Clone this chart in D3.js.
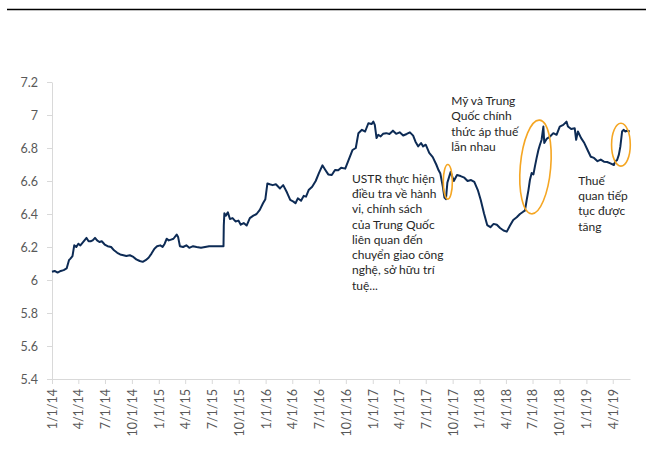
<!DOCTYPE html>
<html>
<head>
<meta charset="utf-8">
<script src="https://cdn.jsdelivr.net/npm/d3@7"></script>
<style>
  html, body { margin: 0; padding: 0; background: #fff; }
  svg text { font-family: Lato, "Noto Sans", sans-serif; }
</style>
</head>
<body>
<div id="chart"></div>
<script>
/* =========================
   Data (USD/CNY)
========================= */
const dates = [
  "2014-01-01","2014-01-10","2014-01-20","2014-01-31","2014-02-10","2014-02-20","2014-02-28","2014-03-05","2014-03-12","2014-03-18",
  "2014-03-25","2014-04-01","2014-04-08","2014-04-15","2014-04-22","2014-04-29","2014-05-06","2014-05-13","2014-05-20","2014-05-28",
  "2014-06-04","2014-06-12","2014-06-20","2014-06-30","2014-07-10","2014-07-22","2014-08-01","2014-08-12","2014-08-22","2014-09-02",
  "2014-09-12","2014-09-24","2014-10-06","2014-10-16","2014-10-28","2014-11-07","2014-11-17","2014-11-27","2014-12-07","2014-12-17",
  "2014-12-26","2015-01-06","2015-01-14","2015-01-21","2015-01-28","2015-02-04","2015-02-12","2015-02-20","2015-03-03","2015-03-08",
  "2015-03-14","2015-03-25","2015-04-05","2015-04-15","2015-04-28","2015-05-10","2015-05-25","2015-06-08","2015-06-22","2015-07-06",
  "2015-07-20","2015-08-03","2015-08-10","2015-08-11","2015-08-13","2015-08-18","2015-08-25","2015-09-01","2015-09-10","2015-09-20",
  "2015-09-30","2015-10-08","2015-10-18","2015-10-28","2015-11-08","2015-11-20","2015-12-01","2015-12-12","2015-12-23","2015-12-31",
  "2016-01-07","2016-01-15","2016-01-25","2016-02-05","2016-02-19","2016-03-01","2016-03-14","2016-03-25","2016-04-05","2016-04-12",
  "2016-04-20","2016-05-01","2016-05-10","2016-05-18","2016-05-27","2016-06-08","2016-06-20","2016-07-01","2016-07-13","2016-07-23",
  "2016-08-02","2016-08-14","2016-08-25","2016-09-05","2016-09-15","2016-09-29","2016-10-10","2016-10-24","2016-11-04","2016-11-13",
  "2016-11-25","2016-12-06","2016-12-17","2016-12-28","2017-01-03","2017-01-08","2017-01-14","2017-01-20","2017-01-28","2017-02-05",
  "2017-02-16","2017-02-27","2017-03-11","2017-03-22","2017-04-03","2017-04-15","2017-04-27","2017-05-08","2017-05-19","2017-05-27",
  "2017-06-05","2017-06-15","2017-06-22","2017-07-01","2017-07-13","2017-07-25","2017-08-06","2017-08-14","2017-08-20","2017-08-28",
  "2017-09-03","2017-09-08","2017-09-13","2017-09-24","2017-10-05","2017-10-16","2017-10-28","2017-11-10","2017-11-21","2017-12-03",
  "2017-12-14","2017-12-26","2018-01-05","2018-01-16","2018-01-27","2018-02-07","2018-02-18","2018-03-01","2018-03-12","2018-03-24",
  "2018-04-04","2018-04-15","2018-04-26","2018-05-08","2018-05-19","2018-05-30","2018-06-05","2018-06-11","2018-06-17","2018-06-22",
  "2018-06-28","2018-07-04","2018-07-09","2018-07-15","2018-07-21","2018-07-26","2018-08-01","2018-08-07","2018-08-10","2018-08-18",
  "2018-08-29","2018-09-10","2018-09-21","2018-10-02","2018-10-14","2018-10-25","2018-10-30","2018-11-10","2018-11-22","2018-11-27",
  "2018-12-03","2018-12-14","2018-12-25","2019-01-05","2019-01-16","2019-01-27","2019-02-08","2019-02-19","2019-03-02","2019-03-13",
  "2019-03-24","2019-04-05","2019-04-10","2019-04-16","2019-04-22","2019-04-27","2019-05-03","2019-05-08","2019-05-14","2019-05-20",
  "2019-05-29"
];

const rates = [
  6.050,6.055,6.045,6.055,6.060,6.070,6.120,6.130,6.145,6.210,
  6.200,6.220,6.210,6.225,6.240,6.255,6.235,6.235,6.240,6.255,
  6.240,6.230,6.235,6.215,6.205,6.200,6.180,6.165,6.155,6.150,
  6.145,6.150,6.140,6.125,6.115,6.110,6.120,6.135,6.160,6.190,
  6.205,6.210,6.200,6.220,6.250,6.240,6.245,6.250,6.275,6.260,
  6.205,6.200,6.210,6.195,6.205,6.200,6.195,6.200,6.205,6.205,
  6.205,6.205,6.205,6.330,6.405,6.390,6.410,6.370,6.375,6.355,
  6.360,6.335,6.345,6.330,6.375,6.390,6.400,6.425,6.465,6.490,
  6.585,6.580,6.575,6.580,6.555,6.575,6.530,6.485,6.475,6.465,
  6.495,6.480,6.510,6.505,6.545,6.565,6.600,6.648,6.695,6.667,
  6.640,6.636,6.667,6.665,6.680,6.675,6.725,6.788,6.800,6.890,
  6.910,6.900,6.950,6.945,6.960,6.940,6.860,6.880,6.870,6.886,
  6.890,6.885,6.905,6.886,6.895,6.876,6.885,6.895,6.875,6.838,
  6.810,6.830,6.810,6.820,6.770,6.745,6.700,6.665,6.645,6.570,
  6.500,6.490,6.590,6.655,6.600,6.636,6.630,6.620,6.600,6.606,
  6.595,6.545,6.485,6.405,6.333,6.320,6.340,6.335,6.315,6.300,
  6.293,6.330,6.364,6.380,6.400,6.414,6.420,6.485,6.545,6.606,
  6.648,6.640,6.687,6.740,6.788,6.818,6.850,6.930,6.830,6.855,
  6.868,6.890,6.880,6.930,6.940,6.960,6.930,6.915,6.920,6.850,
  6.900,6.860,6.830,6.788,6.747,6.740,6.720,6.730,6.717,6.715,
  6.707,6.697,6.720,6.727,6.760,6.808,6.900,6.910,6.900,6.905,
  6.900
];

const yTicks = [5.4, 5.6, 5.8, 6, 6.2, 6.4, 6.6, 6.8, 7, 7.2];
const xTickDates = [
  "2014-01-01","2014-04-01","2014-07-01","2014-10-01","2015-01-01","2015-04-01","2015-07-01","2015-10-01",
  "2016-01-01","2016-04-01","2016-07-01","2016-10-01","2017-01-01","2017-04-01","2017-07-01","2017-10-01",
  "2018-01-01","2018-04-01","2018-07-01","2018-10-01","2019-01-01","2019-04-01"
];

// annotations: text lines + the orange rings (anchored on dates / rates)
const notes = [
  { date: "2016-10-22", rate: 6.59, lines: ["USTR thực hiện", "điều tra về hành", "vi, chính sách", "của Trung Quốc", "liên quan đến", "chuyển giao công", "nghệ, sở hữu trí", "tuệ..."] },
  { date: "2017-09-26", rate: 7.06, lines: ["Mỹ và Trung", "Quốc chính", "thức áp thuế", "lẫn nhau"] },
  { date: "2018-12-04", rate: 6.577, lines: ["Thuế", "quan tiếp", "tục được", "tăng"] }
];
const rings = [
  { from: "2017-08-30", to: "2017-09-30", lo: 6.49, hi: 6.70 },
  { from: "2018-05-20", to: "2018-09-01", lo: 6.40, hi: 6.97 },
  { from: "2019-03-28", to: "2019-05-31", lo: 6.69, hi: 6.95 }
];

/* =========================
   Setup
========================= */
const W = 646, H = 455;
const parse = d3.timeParse("%Y-%m-%d");
const data = dates.map((d, i) => ({ date: parse(d), value: rates[i] }));

const svg = d3.select("#chart").append("svg")
  .attr("width", W).attr("height", H);

const x = d3.scaleTime()
  .domain([parse("2014-01-01"), parse("2019-05-30")])
  .range([52, 630]);

const y = d3.scaleLinear()
  .domain([5.4, 7.2])
  .range([379, 82]);

// black rule on top
svg.append("line")
  .attr("x1", 7).attr("x2", W).attr("y1", 9.5).attr("y2", 9.5)
  .attr("stroke", "#000").attr("stroke-width", 1.3);

/* =========================
   Axes
========================= */
const yAxisG = svg.append("g")
  .attr("transform", "translate(52,0)")
  .call(d3.axisLeft(y).tickValues(yTicks).tickFormat(d3.format("~g")).tickSize(5).tickSizeOuter(0));

const xAxisG = svg.append("g")
  .attr("transform", "translate(0,379)")
  .call(d3.axisBottom(x).tickValues(xTickDates.map(parse)).tickFormat(d3.timeFormat("%-m/%-d/%y")).tickSize(5).tickSizeOuter(0));

[yAxisG, xAxisG].forEach(g => {
  g.select(".domain").attr("stroke", "#d9d9d9");
  g.selectAll(".tick line").attr("stroke", "#d9d9d9");
  g.selectAll(".tick text").attr("fill", "#595959").attr("font-size", 12.5);
});

yAxisG.selectAll(".tick text").attr("x", -14);

xAxisG.selectAll(".tick text")
  .attr("transform", "rotate(-90)")
  .attr("text-anchor", "end")
  .attr("x", -10)
  .attr("y", 0)
  .attr("dy", "0.35em");

/* =========================
   Line
========================= */
const line = d3.line()
  .x(d => x(d.date))
  .y(d => y(d.value));

svg.append("path")
  .datum(data)
  .attr("fill", "none")
  .attr("stroke", "#0d2b55")
  .attr("stroke-width", 2)
  .attr("stroke-linejoin", "round")
  .attr("d", line);

/* =========================
   Rings + notes
========================= */
rings.forEach((r, i) => {
  const x0 = x(parse(r.from)), x1 = x(parse(r.to));
  const cx = (x0 + x1) / 2, cy = (y(r.lo) + y(r.hi)) / 2;
  svg.append("ellipse")
    .attr("cx", cx).attr("cy", cy)
    .attr("rx", (x1 - x0) / 2).attr("ry", (y(r.lo) - y(r.hi)) / 2)
    .attr("transform", i === 1 ? `rotate(5,${cx},${cy})` : null)
    .attr("fill", "none")
    .attr("stroke", "#f5a623")
    .attr("stroke-width", 1.6);
});

notes.forEach(n => {
  const t = svg.append("text")
    .attr("x", x(parse(n.date)))
    .attr("y", y(n.rate))
    .attr("fill", "#262626")
    .attr("font-size", 12);
  t.selectAll("tspan")
    .data(n.lines)
    .join("tspan")
    .attr("x", x(parse(n.date)))
    .attr("dy", (d, i) => i === 0 ? 0 : 15.3)
    .text(d => d);
});
</script>
</body>
</html>
